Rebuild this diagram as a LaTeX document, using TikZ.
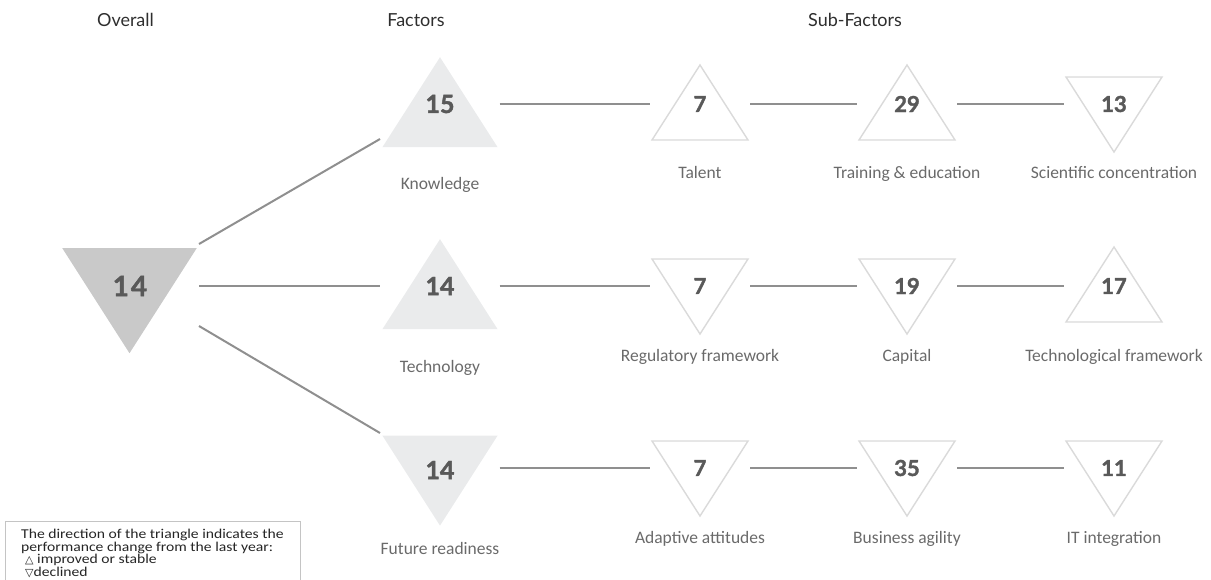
\documentclass[tikz,border=0pt]{standalone}
\usepackage{fontspec}
\setmainfont{Carlito}
\newfontfamily\hdfont{Lato}
\newfontfamily\numfont{Lato}[BoldFeatures={FakeBold=1.6}]
\newfontfamily\legfont{Carlito}[FakeStretch=1.16]
\newfontfamily\symfont{DejaVu Sans}
\definecolor{linegray}{HTML}{8F8F8F}
\definecolor{subedge}{HTML}{DADADA}
\definecolor{facfill}{HTML}{EAEBEC}
\definecolor{ovfill}{HTML}{C9C9C9}
\definecolor{numgray}{HTML}{595959}
\definecolor{lblgray}{HTML}{6A6A6A}
\definecolor{hdgray}{HTML}{2E2E2E}
\definecolor{boxedge}{HTML}{C4C4C4}
\newcommand\myuptri[5]{%
  \path[#1] ({#2-48*#4},{#3+36*#4}) -- ({#2},{#3-39*#4}) -- ({#2+48*#4},{#3+36*#4}) -- cycle;
  \coordinate (#5-w) at ({#2-48*#4-2.5},{#3});
  \coordinate (#5-e) at ({#2+48*#4+2},{#3});}
\newcommand\mydntri[5]{%
  \path[#1] ({#2-48*#4},{#3-27*#4}) -- ({#2+48*#4},{#3-27*#4}) -- ({#2},{#3+48*#4}) -- cycle;
  \coordinate (#5-w) at ({#2-48*#4-2.5},{#3});
  \coordinate (#5-e) at ({#2+48*#4+2},{#3});}
\begin{document}
\begin{tikzpicture}[x=1pt,y=-1pt,
  link/.style={draw=linegray, line width=2pt},
  subtri/.style={draw=subedge, line width=1.4pt, fill=white},
  factri/.style={fill=facfill},
  ovtri/.style={fill=ovfill},
  subnum/.style={font=\numfont\bfseries\fontsize{22}{24}\selectfont, text=numgray, inner sep=0pt},
  facnum/.style={font=\numfont\bfseries\fontsize{25}{27}\selectfont, text=numgray, inner sep=0pt},
  ovnum/.style={font=\numfont\bfseries\fontsize{28}{30}\selectfont, text=numgray, inner sep=0pt},
  lbl/.style={font=\fontsize{17.5}{20}\selectfont, text=lblgray, anchor=base, inner sep=0pt},
  hd/.style={font=\hdfont\fontsize{18}{20}\selectfont, text=hdgray, anchor=base, inner sep=0pt},
  legtxt/.style={font=\legfont\fontsize{13.5}{14}\selectfont, text=black!85, anchor=base west, inner sep=0pt}
]
\useasboundingbox (0,0) rectangle (1211,579);

% headers
\node[hd] (h-ov) at (125.5,26.5) {Overall};
\node[hd] (h-fa) at (416,26.5) {Factors};
\node[hd] (h-sf) at (855,26.5) {Sub-Factors};

% overall
\mydntri{ovtri}{129.5}{286}{1.4}{ov}
\node[ovnum] (n-ov) at (130,286) {1\kern2pt 4};
\coordinate (ov-ne) at (199,244);
\coordinate (ov-se) at (199,326);
\coordinate (ov-r) at (199,286);

% factors
\myuptri{factri}{440}{104}{1.2}{kn}
\myuptri{factri}{440}{286}{1.2}{te}
\mydntri{factri}{440}{468}{1.2}{fr}
\node[facnum] (n-kn) at (440,104) {15};
\node[facnum] (n-te) at (440,286) {14};
\node[facnum] (n-fr) at (440,470) {14};
\node[lbl] (l-kn) at (440,189) {Knowledge};
\node[lbl] (l-te) at (440,372) {Technology};
\node[lbl] (l-fr) at (440,554) {Future readiness};
\coordinate (kn-in) at (380,139);
\coordinate (te-in) at (380,286);
\coordinate (fr-in) at (380,433);

% sub-factors row 1
\myuptri{subtri}{700}{104}{1}{ta}
\myuptri{subtri}{907}{104}{1}{tr}
\mydntri{subtri}{1114}{104}{1}{sc}
\node[subnum] (n-ta) at (700,104) {7};
\node[subnum] (n-tr) at (907,104) {29};
\node[subnum] (n-sc) at (1114,104) {13};
\node[lbl] (l-ta) at (700,178.5) {Talent};
\node[lbl] (l-tr) at (907,178.5) {Training \& education};
\node[lbl] (l-sc) at (1114,178.5) {Scientific concentration};

% row 2
\mydntri{subtri}{700}{286}{1}{rf}
\mydntri{subtri}{907}{286}{1}{ca}
\myuptri{subtri}{1114}{286}{1}{tf}
\node[subnum] (n-rf) at (700,286) {7};
\node[subnum] (n-ca) at (907,286) {19};
\node[subnum] (n-tf) at (1114,286) {17};
\node[lbl] (l-rf) at (700,361.5) {Regulatory framework};
\node[lbl] (l-ca) at (907,361.5) {Capital};
\node[lbl] (l-tf) at (1114,361.5) {Technological framework};

% row 3
\mydntri{subtri}{700}{468}{1}{aa}
\mydntri{subtri}{907}{468}{1}{ba}
\mydntri{subtri}{1114}{468}{1}{it}
\node[subnum] (n-aa) at (700,468) {7};
\node[subnum] (n-ba) at (907,468) {35};
\node[subnum] (n-it) at (1114,468) {11};
\node[lbl] (l-aa) at (700,543.5) {Adaptive attitudes};
\node[lbl] (l-ba) at (907,543.5) {Business agility};
\node[lbl] (l-it) at (1114,543.5) {IT integration};

% connectors
\draw[link] (ov-ne) -- (kn-in);
\draw[link] (ov-r) -- (te-in);
\draw[link] (ov-se) -- (fr-in);
\draw[link] (kn-e) -- (ta-w);
\draw[link] (ta-e) -- (tr-w);
\draw[link] (tr-e) -- (sc-w);
\draw[link] (te-e) -- (rf-w);
\draw[link] (rf-e) -- (ca-w);
\draw[link] (ca-e) -- (tf-w);
\draw[link] (fr-e) -- (aa-w);
\draw[link] (aa-e) -- (ba-w);
\draw[link] (ba-e) -- (it-w);

% legend
\draw[draw=boxedge, line width=1pt, fill=white] (5.5,521.5) rectangle (300.5,595);
\node[legtxt] (lg1) at (21,538.5) {The direction of the triangle indicates the};
\node[legtxt] (lg2) at (21,551) {performance change from the last year:};
\node[legtxt] (lg3) at (25,563.5) {{\symfont\fontsize{11}{12}\selectfont △} improved or stable};
\node[legtxt] (lg4) at (25,576) {{\symfont\fontsize{11}{12}\selectfont ▽}declined};
\end{tikzpicture}
\end{document}
